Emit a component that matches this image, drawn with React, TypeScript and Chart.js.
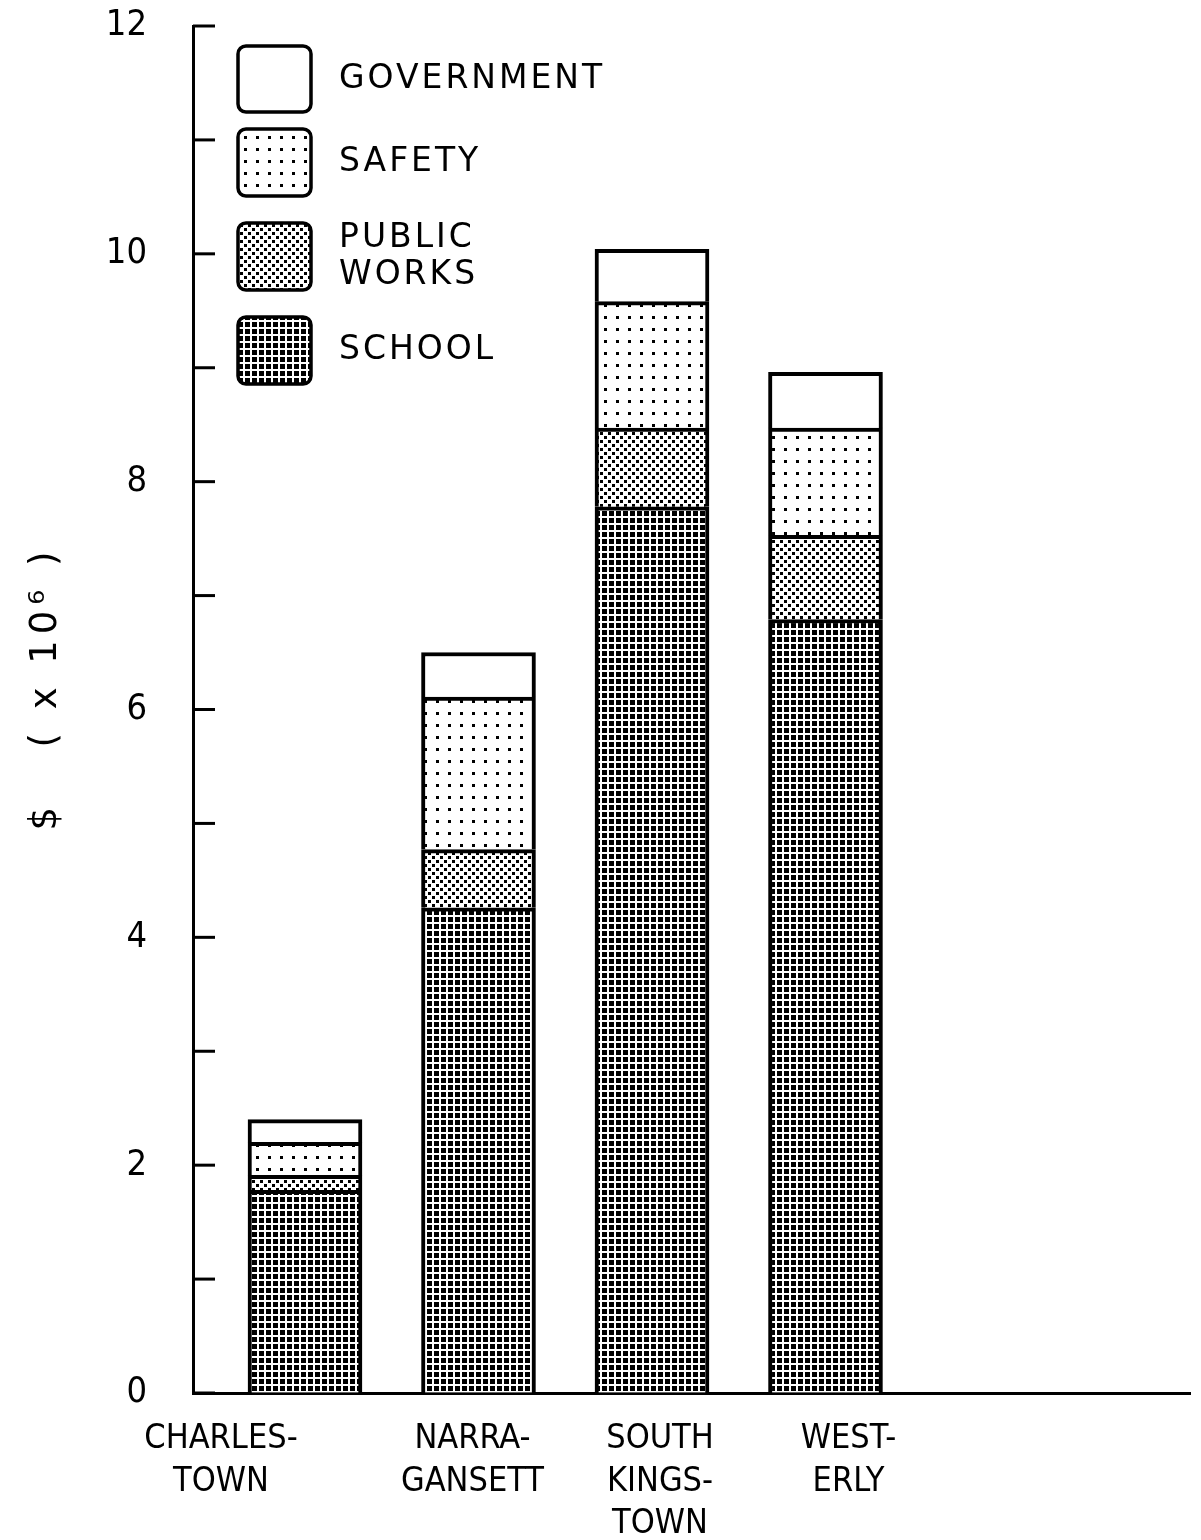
import React, { useEffect, useRef } from 'react';
import { Chart, registerables } from 'chart.js';

Chart.register(...registerables);

// ---- data ----
const TOWNS: string[][] = [
  ['CHARLES-', 'TOWN'],
  ['NARRA-', 'GANSETT'],
  ['SOUTH', 'KINGS-', 'TOWN'],
  ['WEST-', 'ERLY'],
];
const SCHOOL = [1.78, 4.26, 7.78, 6.79];
const PUBLIC_WORKS = [0.13, 0.51, 0.69, 0.74];
const SAFETY = [0.29, 1.34, 1.11, 0.94];
const GOVERNMENT = [0.2, 0.39, 0.46, 0.49];
const Y_MIN = 0;
const Y_MAX = 12;
const Y_LABEL_STEP = 2;
const Y_TITLE = '$   ( x 10⁶ )';
const LEGEND_NAMES: string[][] = [['GOVERNMENT'], ['SAFETY'], ['PUBLIC', 'WORKS'], ['SCHOOL']];

// ---- style ----
const NARROW = "'Liberation Sans Narrow', 'DejaVu Sans Condensed', 'Liberation Sans', sans-serif";
const WIDE = "'DejaVu Sans', 'Liberation Sans', sans-serif";
const LABEL_SHIFT_PX = [-84, -6, 8, 23];

function makePattern(kind: string): CanvasPattern | string {
  const c = document.createElement('canvas');
  const g = c.getContext('2d')!;
  if (kind === 'white') return '#ffffff';
  if (kind === 'safety') {
    c.width = 12; c.height = 12;
    g.fillStyle = '#fff'; g.fillRect(0, 0, 12, 12);
    g.fillStyle = '#000'; g.fillRect(4, 4, 3, 3);
  } else if (kind === 'pw') {
    c.width = 8; c.height = 8;
    g.fillStyle = '#fff'; g.fillRect(0, 0, 8, 8);
    g.fillStyle = '#000'; g.fillRect(0, 0, 3, 3); g.fillRect(4, 4, 3, 3);
  } else {
    c.width = 7; c.height = 7;
    g.fillStyle = '#fff'; g.fillRect(0, 0, 7, 7);
    g.fillStyle = '#000'; g.fillRect(0, 0, 5, 5);
  }
  return g.createPattern(c, 'repeat')!;
}

export default function App() {
  const ref = useRef<HTMLCanvasElement | null>(null);

  useEffect(() => {
    document.body.style.margin = '0';
    const canvas = ref.current!;
    const fills = {
      school: makePattern('school'),
      pw: makePattern('pw'),
      safety: makePattern('safety'),
      gov: makePattern('white'),
    };

    const yTickMarks = {
      id: 'yTickMarks',
      afterDraw(chart: any) {
        const { ctx, chartArea, scales } = chart;
        const y = scales.y;
        ctx.save();
        ctx.strokeStyle = '#000';
        ctx.lineWidth = 3;
        y.ticks.forEach((t: any) => {
          const py = y.getPixelForValue(t.value);
          ctx.beginPath();
          ctx.moveTo(chartArea.left, py);
          ctx.lineTo(chartArea.left + 22, py);
          ctx.stroke();
        });
        ctx.restore();
      },
    };

    const yTitle = {
      id: 'yTitle',
      afterDraw(chart: any) {
        const { ctx } = chart;
        ctx.save();
        ctx.translate(46, 688);
        ctx.rotate(-Math.PI / 2);
        ctx.fillStyle = '#000';
        ctx.font = `37px ${WIDE}`;
        (ctx as any).letterSpacing = '6px';
        ctx.textAlign = 'center';
        ctx.textBaseline = 'middle';
        ctx.fillText(Y_TITLE, 0, 0);
        ctx.restore();
      },
    };

    const boxTops = [46, 129, 223, 317];
    const boxHeights = [66, 67, 67, 67];
    const legendFills = [fills.gov, fills.safety, fills.pw, fills.school];
    const legend = {
      id: 'customLegend',
      afterDraw(chart: any) {
        const { ctx } = chart;
        ctx.save();
        LEGEND_NAMES.forEach((lines, i) => {
          const x = 238;
          const w = 73;
          const top = boxTops[i];
          const h = boxHeights[i];
          ctx.beginPath();
          (ctx as any).roundRect(x, top, w, h, 8);
          ctx.fillStyle = legendFills[i] as any;
          ctx.fill();
          ctx.lineWidth = 3.5;
          ctx.strokeStyle = '#000';
          ctx.stroke();
          ctx.fillStyle = '#000';
          ctx.font = `33px ${WIDE}`;
          (ctx as any).letterSpacing = '3px';
          ctx.textAlign = 'left';
          ctx.textBaseline = 'middle';
          const cy = top + h / 2;
          const lh = 37;
          lines.forEach((ln, j) => {
            ctx.fillText(ln, 339, cy + (j - (lines.length - 1) / 2) * lh);
          });
        });
        ctx.restore();
      },
    };

    const mk = (label: string, data: number[], bg: any) => ({
      label,
      data: data.map((v, i) => ({ x: i + 1, y: v })),
      backgroundColor: bg,
      borderColor: '#000',
      borderWidth: 4,
      barThickness: 114,
    });

    const chart = new Chart(canvas, {
      type: 'bar',
      data: {
        datasets: [
          mk('SCHOOL', SCHOOL, fills.school),
          mk('PUBLIC WORKS', PUBLIC_WORKS, fills.pw),
          mk('SAFETY', SAFETY, fills.safety),
          mk('GOVERNMENT', GOVERNMENT, fills.gov),
        ] as any,
      },
      options: {
        responsive: false,
        animation: false,
        devicePixelRatio: 1,
        layout: { padding: { left: 0, right: 11, top: 26, bottom: 0 } },
        plugins: { legend: { display: false }, tooltip: { enabled: false } },
        scales: {
          x: {
            type: 'linear',
            stacked: true,
            offset: false,
            min: 0.3545,
            max: 6.1009,
            afterBuildTicks: (s: any) => {
              s.ticks = TOWNS.map((_, i) => ({ value: i + 1 + LABEL_SHIFT_PX[i] / 173.5 }));
            },
            afterFit: (s: any) => {
              s.height = 147;
              s.paddingLeft = 0;
              s.paddingRight = 0;
            },
            grid: { drawOnChartArea: false, drawTicks: false },
            border: { display: true, color: '#000', width: 3 },
            ticks: {
              autoSkip: false,
              maxRotation: 0,
              padding: 25,
              color: '#000',
              font: { family: NARROW, size: 34, lineHeight: 1.25 },
              callback: (v: any) => TOWNS[Math.round(Number(v)) - 1] || '',
            },
          },
          y: {
            stacked: true,
            min: Y_MIN,
            max: Y_MAX,
            afterFit: (s: any) => {
              s.width = 193;
              s.paddingTop = 0;
              s.paddingBottom = 0;
            },
            grid: { drawOnChartArea: false, drawTicks: false },
            border: { display: true, color: '#000', width: 3 },
            ticks: {
              stepSize: 1,
              autoSkip: false,
              padding: 46,
              color: '#000',
              font: { family: NARROW, size: 36 },
              callback: (v: any) => (Number(v) % Y_LABEL_STEP === 0 ? String(v) : ''),
            },
          },
        },
      } as any,
      plugins: [yTickMarks, yTitle, legend],
    });
    return () => chart.destroy();
  }, []);

  return (
    <div style={{ width: 1201, height: 1540 }}>
      <canvas ref={ref} width={1201} height={1540} style={{ display: 'block' }} />
    </div>
  );
}
